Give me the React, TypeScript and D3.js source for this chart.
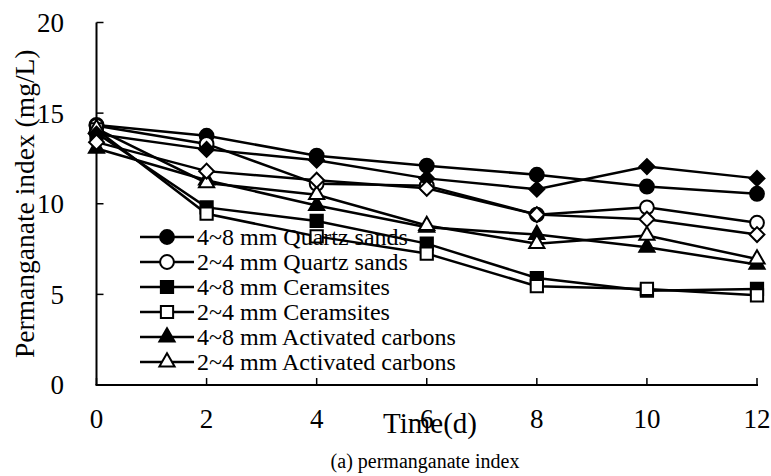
import React from 'react'
import { useRef, useEffect } from "react";
import * as d3 from 'd3';

// sampling days
const days = [0, 2, 4, 6, 8, 10, 12];

// permanganate index (mg/L)
const quartz48 = [14.35, 13.75, 12.65, 12.1, 11.6, 10.95, 10.55];
const quartz24 = [14.3, 13.3, 11.1, 11.0, 9.4, 9.8, 8.95];
const ceram48 = [13.9, 9.8, 9.05, 7.8, 5.9, 5.2, 5.3];
const ceram24 = [14.1, 9.45, 8.2, 7.25, 5.45, 5.3, 4.95];
const carbon48 = [13.05, 11.3, 9.9, 8.7, 8.3, 7.6, 6.65];
const carbon24 = [14.15, 11.15, 10.5, 8.8, 7.8, 8.25, 6.95];
// two extra series drawn in the figure but missing from its legend
const diamondFilled = [13.85, 13.0, 12.4, 11.4, 10.8, 12.05, 11.4];
const diamondOpen = [13.4, 11.8, 11.3, 10.85, 9.4, 9.15, 8.3];

const xTicks = [0, 2, 4, 6, 8, 10, 12];
const yTicks = [0, 5, 10, 15, 20];

const FONT = 'Liberation Serif, Times New Roman, serif';

export default function App() {
  const svgRef = useRef(null);

  useEffect(() => {
    const w = 771;
    const h = 476;
    const svg = d3.select(svgRef.current);
    svg.selectAll('*').remove();
    svg.attr('width', w).attr('height', h);

    const x = d3.scaleLinear().domain([0, 12]).range([96.5, 757]);
    const y = d3.scaleLinear().domain([0, 20]).range([385, 22.5]);

    const txt = (g, size) => g.append('text').attr('font-family', FONT).attr('font-size', size).attr('fill', 'black');

    // marker shapes
    const shape = {
      circle: d3.symbol().type(d3.symbolCircle).size(150)(),
      square: d3.symbol().type(d3.symbolSquare).size(150)(),
      triangle: d3.symbol().type(d3.symbolTriangle).size(100)(),
      diamond: d3.symbol().type(d3.symbolSquare).size(110)(),
    };

    const series = [
      { name: '4~8 mm Quartz sands', values: quartz48, shape: 'circle', fill: 'black', legend: true },
      { name: '2~4 mm Quartz sands', values: quartz24, shape: 'circle', fill: 'white', legend: true },
      { name: '4~8 mm Ceramsites', values: ceram48, shape: 'square', fill: 'black', legend: true },
      { name: '2~4 mm Ceramsites', values: ceram24, shape: 'square', fill: 'white', legend: true },
      { name: '4~8 mm Activated carbons', values: carbon48, shape: 'triangle', fill: 'black', legend: true },
      { name: '2~4 mm Activated carbons', values: carbon24, shape: 'triangle', fill: 'white', legend: true },
      { name: 'filled diamond', values: diamondFilled, shape: 'diamond', fill: 'black', legend: false },
      { name: 'open diamond', values: diamondOpen, shape: 'diamond', fill: 'white', legend: false },
    ];

    const marker = (g, s, cx, cy) => {
      g.append('path')
        .attr('d', shape[s.shape])
        .attr('transform', `translate(${cx},${cy})` + (s.shape === 'diamond' ? ' rotate(45)' : ''))
        .attr('fill', s.fill)
        .attr('stroke', 'black')
        .attr('stroke-width', 2);
    };

    //axes
    const axes = svg.append('g');
    axes.append('line').attr('x1', x(0)).attr('x2', x(0)).attr('y1', y(20)).attr('y2', y(0))
      .attr('stroke', 'black').attr('stroke-width', 2);
    axes.append('line').attr('x1', x(0) - 1).attr('x2', x(12) + 1).attr('y1', y(0)).attr('y2', y(0))
      .attr('stroke', 'black').attr('stroke-width', 2);
    yTicks.forEach(t => {
      axes.append('line').attr('x1', x(0)).attr('x2', x(0) + 7).attr('y1', y(t)).attr('y2', y(t))
        .attr('stroke', 'black').attr('stroke-width', 1.5);
      txt(axes, 27).attr('x', 64).attr('y', y(t)).attr('dy', '0.35em')
        .attr('text-anchor', 'end').text(t);
    });
    xTicks.forEach(t => {
      axes.append('line').attr('x1', x(t)).attr('x2', x(t)).attr('y1', y(0)).attr('y2', y(0) - 7)
        .attr('stroke', 'black').attr('stroke-width', 1.5);
      txt(axes, 27).attr('x', x(t)).attr('y', 428)
        .attr('text-anchor', 'middle').text(t);
    });

    //titles
    txt(svg, 27.5).attr('transform', `translate(34,${(y(0) + y(20)) / 2}) rotate(-90)`)
      .attr('text-anchor', 'middle').text('Permanganate index (mg/L)');
    txt(svg, 29).attr('x', 430).attr('y', 433)
      .attr('text-anchor', 'middle').text('Time(d)');
    txt(svg, 20).attr('x', 425).attr('y', 468)
      .attr('text-anchor', 'middle').text('(a) permanganate index');

    //series
    const line = d3.line().x((d, i) => x(days[i])).y(d => y(d));
    series.forEach(s => {
      const g = svg.append('g');
      g.append('path').attr('d', line(s.values)).attr('fill', 'none')
        .attr('stroke', 'black').attr('stroke-width', 2.5);
      s.values.forEach((v, i) => marker(g, s, x(days[i]), y(v)));
    });

    //legend
    const legend = svg.append('g');
    series.filter(s => s.legend).forEach((s, i) => {
      const ly = 237 + i * 25;
      legend.append('line').attr('x1', 140).attr('x2', 194).attr('y1', ly).attr('y2', ly)
        .attr('stroke', 'black').attr('stroke-width', 2.5);
      marker(legend, s, 167, ly);
      txt(legend, 24).attr('x', 197).attr('y', ly).attr('dy', '0.35em').text(s.name);
    });
  }, []);

  return (
    <div style={{ position: 'absolute', left: 0, top: 0 }}>
      <svg ref={svgRef}></svg>
    </div>
  );
}
